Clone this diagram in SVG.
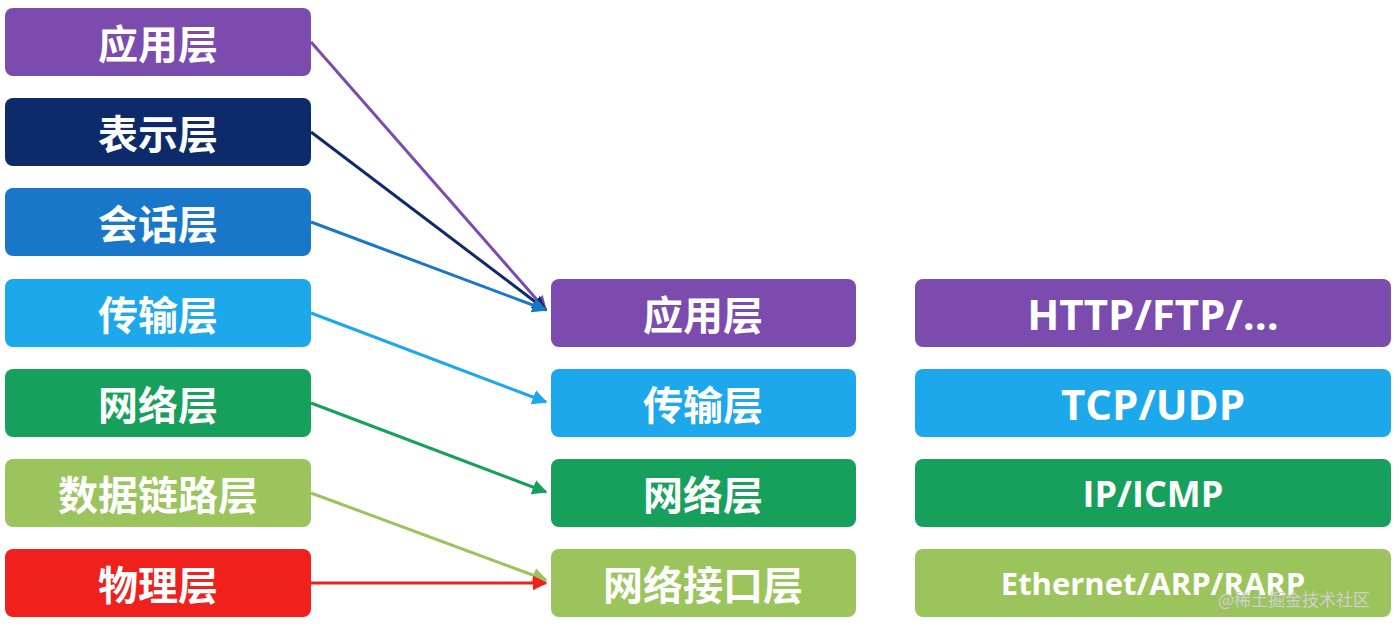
<svg xmlns="http://www.w3.org/2000/svg" width="1398" height="628" viewBox="0 0 1398 628">
<style>
text{font-family:"Noto Sans CJK SC","Open Sans",sans-serif;font-weight:bold;fill:#fff;text-anchor:middle;dominant-baseline:central}
.c{font-size:40px}
.e{font-family:"Open Sans","Noto Sans CJK SC",sans-serif}
.w{font-size:17px;font-weight:normal;fill:#d0d0d0;text-anchor:start}
</style>
<defs>
<marker id="m" viewBox="0 0 10 10" refX="9" refY="5" markerWidth="5" markerHeight="5" orient="auto" markerUnits="strokeWidth"><path d="M0,0L10,5L0,10z" fill="context-stroke"/></marker>
</defs>
<rect width="1398" height="628" fill="#fff"/>
<g id="l1"><rect x="5" y="8" width="306" height="68" rx="8" fill="#7B4BAE"/><text class="c" x="158" y="42">应用层</text></g>
<g id="l2"><rect x="5" y="98" width="306" height="68" rx="8" fill="#0D2A6B"/><text class="c" x="158" y="132">表示层</text></g>
<g id="l3"><rect x="5" y="188" width="306" height="68" rx="8" fill="#1877C9"/><text class="c" x="158" y="222">会话层</text></g>
<g id="l4"><rect x="5" y="279" width="306" height="68" rx="8" fill="#1CA8EA"/><text class="c" x="158" y="313">传输层</text></g>
<g id="l5"><rect x="5" y="369" width="306" height="68" rx="8" fill="#17A05B"/><text class="c" x="158" y="403">网络层</text></g>
<g id="l6"><rect x="5" y="459" width="306" height="68" rx="8" fill="#9BC45C"/><text class="c" x="158" y="493">数据链路层</text></g>
<g id="l7"><rect x="5" y="549" width="306" height="68" rx="8" fill="#F0201D"/><text class="c" x="158" y="583">物理层</text></g>
<g id="m1"><rect x="551" y="279" width="305" height="68" rx="8" fill="#7B4BAE"/><text class="c" x="703" y="313">应用层</text></g>
<g id="m2"><rect x="551" y="369" width="305" height="68" rx="8" fill="#1CA8EA"/><text class="c" x="703" y="403">传输层</text></g>
<g id="m3"><rect x="551" y="459" width="305" height="68" rx="8" fill="#17A05B"/><text class="c" x="703" y="493">网络层</text></g>
<g id="m4"><rect x="551" y="549" width="305" height="68" rx="8" fill="#9BC45C"/><text class="c" x="703" y="583">网络接口层</text></g>
<g id="r1"><rect x="915" y="279" width="476" height="68" rx="8" fill="#7B4BAE"/><text class="e" font-size="42" x="1153" y="313">HTTP/FTP/...</text></g>
<g id="r2"><rect x="915" y="369" width="476" height="68" rx="8" fill="#1CA8EA"/><text class="e" font-size="42" x="1153" y="403">TCP/UDP</text></g>
<g id="r3"><rect x="915" y="459" width="476" height="68" rx="8" fill="#17A05B"/><text class="e" font-size="36" x="1153" y="493">IP/ICMP</text></g>
<g id="r4"><rect x="915" y="549" width="476" height="68" rx="8" fill="#9BC45C"/><text class="e" font-size="31" x="1153" y="583">Ethernet/ARP/RARP</text></g>
<g id="connectors" fill="none" stroke-width="3" marker-end="url(#m)">
<line x1="311" y1="42" x2="546" y2="310" stroke="#7B4BAE"/>
<line x1="311" y1="132" x2="546" y2="310" stroke="#0D2A6B"/>
<line x1="311" y1="222" x2="546" y2="310" stroke="#1877C9"/>
<line x1="311" y1="313" x2="546" y2="402" stroke="#1CA8EA"/>
<line x1="311" y1="403" x2="546" y2="492" stroke="#17A05B"/>
<line x1="311" y1="493" x2="546" y2="580" stroke="#9BC45C"/>
<line x1="311" y1="583" x2="546" y2="583" stroke="#F0201D"/>
</g>
<text class="w" x="1218" y="598">@稀土掘金技术社区</text>
</svg>
